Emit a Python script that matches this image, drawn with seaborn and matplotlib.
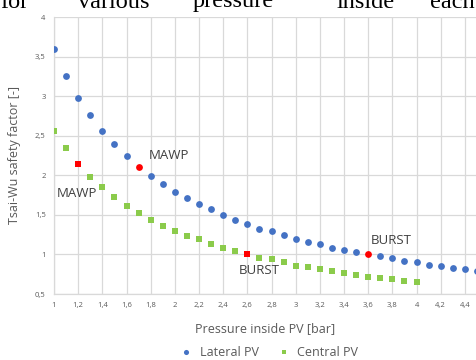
import numpy as np
import pandas as pd
import matplotlib
matplotlib.use("Agg")
import matplotlib.pyplot as plt
import seaborn as sns

# Data
lateral_p = [1.0, 1.1, 1.2, 1.3, 1.4, 1.5, 1.6, 1.7, 1.8, 1.9, 2.0, 2.1, 2.2, 2.3, 2.4, 2.5,
             2.6, 2.7, 2.8, 2.9, 3.0, 3.1, 3.2, 3.3, 3.4, 3.5, 3.6, 3.7, 3.8, 3.9, 4.0, 4.1,
             4.2, 4.3, 4.4, 4.5]
lateral_sf = [3.59, 3.26, 2.98, 2.76, 2.56, 2.39, 2.24, 2.10, 1.99, 1.89, 1.79, 1.71, 1.64,
              1.57, 1.50, 1.44, 1.39, 1.32, 1.29, 1.24, 1.20, 1.16, 1.13, 1.08, 1.06, 1.03,
              1.00, 0.98, 0.95, 0.92, 0.90, 0.87, 0.86, 0.83, 0.82, 0.79]
central_p = [1.0, 1.1, 1.2, 1.3, 1.4, 1.5, 1.6, 1.7, 1.8, 1.9, 2.0, 2.1, 2.2, 2.3, 2.4, 2.5,
             2.6, 2.7, 2.8, 2.9, 3.0, 3.1, 3.2, 3.3, 3.4, 3.5, 3.6, 3.7, 3.8, 3.9, 4.0]
central_sf = [2.56, 2.34, 2.14, 1.98, 1.85, 1.72, 1.61, 1.52, 1.43, 1.36, 1.29, 1.23, 1.19,
              1.13, 1.08, 1.04, 1.00, 0.96, 0.94, 0.90, 0.86, 0.84, 0.81, 0.79, 0.77, 0.74,
              0.72, 0.70, 0.69, 0.67, 0.65]
# highlighted points (MAWP, BURST)
lateral_red = [1.7, 3.6]
central_red = [1.2, 2.6]

lat = pd.DataFrame({"p": lateral_p, "sf": lateral_sf})
cen = pd.DataFrame({"p": central_p, "sf": central_sf})
lat["red"] = lat["p"].round(2).isin(lateral_red)
cen["red"] = cen["p"].round(2).isin(central_red)

blue = "#4472C4"
green = "#8BCB4B"
red = "#FF0000"
grid = "#D9D9D9"
txt = "#595959"

sns.set_theme(style="whitegrid")
plt.rcParams["font.family"] = ["Open Sans", "DejaVu Sans"]

fig = plt.figure(figsize=(4.77, 3.6), dpi=100)
ax = fig.add_axes([54 / 477, 1 - 294 / 360, 1 - 54 / 477, (294 - 17) / 360])

sns.scatterplot(data=lat[~lat.red], x="p", y="sf", ax=ax, color=blue, marker="o",
                s=24, linewidth=0, label="Lateral PV", zorder=3)
sns.scatterplot(data=cen[~cen.red], x="p", y="sf", ax=ax, color=green, marker="s",
                s=20, linewidth=0, label="Central PV", zorder=3)
sns.scatterplot(data=lat[lat.red], x="p", y="sf", ax=ax, color=red, marker="o",
                s=24, linewidth=0, legend=False, zorder=3)
sns.scatterplot(data=cen[cen.red], x="p", y="sf", ax=ax, color=red, marker="s",
                s=20, linewidth=0, legend=False, zorder=3)

ax.set_xlim(1, 4.5)
ax.set_ylim(0.5, 4)
ax.set_xticks(np.arange(1, 4.41, 0.2))
ax.set_yticks(np.arange(0.5, 4.01, 0.5))
ax.set_xticklabels([f"{v:g}".replace(".", ",") for v in np.round(np.arange(1, 4.41, 0.2), 1)])
ax.set_yticklabels([f"{v:g}".replace(".", ",") for v in np.arange(0.5, 4.01, 0.5)])
ax.tick_params(axis="both", length=0, labelsize=5.5, labelcolor=txt, pad=6)
ax.grid(True, color=grid, linewidth=0.9)
for side in ["top", "right"]:
    ax.spines[side].set_visible(False)
for side in ["left", "bottom"]:
    ax.spines[side].set_color(grid)
    ax.spines[side].set_linewidth(0.9)

ax.set_xlabel("Pressure inside PV [bar]", fontsize=9, color=txt, labelpad=9)
ax.set_ylabel("Tsai-Wu safety factor [-]", fontsize=9, color=txt, labelpad=10)

ann = dict(fontsize=9.5, color="#404040")
ax.text(1.78, 2.25, "MAWP", ha="left", va="center", **ann)
ax.text(1.02, 1.77, "MAWP", ha="left", va="center", **ann)
ax.text(3.62, 1.18, "BURST", ha="left", va="center", **ann)
ax.text(2.53, 0.80, "BURST", ha="left", va="center", **ann)

handles, labels = ax.get_legend_handles_labels()
ax.legend_.remove()
fig.legend(handles, labels, loc="center", bbox_to_anchor=(266 / 477, 1 - 352 / 360),
           ncol=2, frameon=False, fontsize=9, labelcolor=txt, handletextpad=0.1,
           columnspacing=1.0, markerscale=0.75)

# cropped line of document text above the chart
words = [("for", 0), ("various", 78), ("pressure", 193), ("inside", 337), ("each", 430)]
for w, px in words:
    fig.text(px / 477, 1 - 7.5 / 360, w, ha="left", va="baseline",
             fontsize=17.5, family="Liberation Serif", color="black")

fig.savefig("out.png", dpi=100)
